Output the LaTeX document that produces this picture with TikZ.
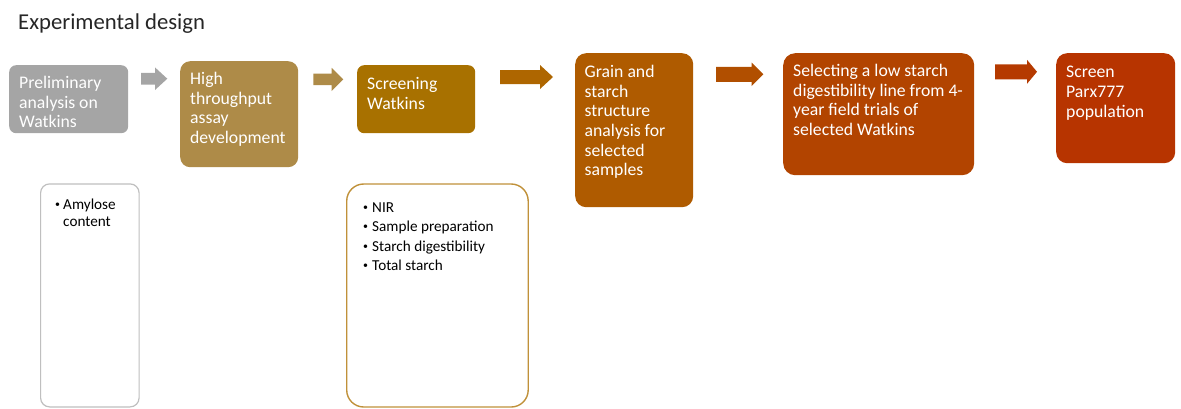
\documentclass[tikz,border=0pt]{standalone}
\usepackage{fontspec}
\setmainfont{Carlito}
\definecolor{stepgray}{HTML}{A5A5A5}
\definecolor{steptan}{HTML}{AE8B48}
\definecolor{stepgold}{HTML}{A87100}
\definecolor{arrowgold}{HTML}{AE6600}
\definecolor{stepamber}{HTML}{AF5B00}
\definecolor{arrowamber}{HTML}{B14F00}
\definecolor{steprust}{HTML}{B24400}
\definecolor{arrowrust}{HTML}{B53A00}
\definecolor{stepred}{HTML}{B73400}
\definecolor{notegray}{HTML}{BFBFBF}
\definecolor{notegold}{HTML}{C0913A}
\newcommand{\notebullet}[1]{\makebox[#1][l]{\hspace*{1pt}\raisebox{0.25ex}{\scalebox{0.65}{\textbullet}}}}
\begin{document}
\begin{tikzpicture}[x=1pt, y=-1pt,
    stepbox/.style={rounded corners=#1, inner sep=0, anchor=north west},
    steptext/.style={text=white, font=\fontsize{17.7}{19.7}\selectfont, align=left, inner sep=0, anchor=north west},
    notetext/.style={text=black, align=left, inner sep=0, anchor=north west}]
\useasboundingbox (0,0) rectangle (1181,408);

\node[anchor=base west, inner sep=0, font=\fontsize{22.7}{27}\selectfont, text=black!85] (title) at (18,29.3) {Experimental design};

% steps
\node[stepbox=7, fill=stepgray, minimum width=119, minimum height=68] (b1) at (9,65) {};
\node[stepbox=10, fill=steptan, minimum width=118, minimum height=106] (b2) at (180,61) {};
\node[stepbox=7, fill=stepgold, minimum width=118, minimum height=68] (b3) at (357,65) {};
\node[stepbox=11, fill=stepamber, minimum width=118, minimum height=154] (b4) at (575,53) {};
\node[stepbox=12, fill=steprust, minimum width=191, minimum height=122] (b5) at (783,53) {};
\node[stepbox=11, fill=stepred, minimum width=119, minimum height=110] (b6) at (1056,53) {};

\node[steptext] (t1) at ([shift={(10,11)}]b1.north west) {Preliminary\\analysis on\\Watkins};
\node[steptext] (t2) at ([shift={(10,11)}]b2.north west) {High\\throughput\\assay\\development};
\node[steptext] (t3) at ([shift={(10,12)}]b3.north west) {Screening\\Watkins};
\node[steptext] (t4) at ([shift={(9.5,12)}]b4.north west) {Grain and\\starch\\structure\\analysis for\\selected\\samples};
\node[steptext] (t5) at ([shift={(10,11)}]b5.north west) {Selecting a low starch\\digestibility line from 4-\\year field trials of\\selected Watkins};
\node[steptext] (t6) at ([shift={(10,13)}]b6.north west) {Screen\\Parx777\\population};

% block arrows
\foreach \xa/\xb/\xc/\yc/\s/\hh/\col in {141/155/167.3/78.7/5.8/11.3/stepgray,
    313.3/331.7/343.3/79.4/5.8/11.6/steptan,
    500/540/553/77/7/12/arrowgold,
    716/751.7/763.3/74.3/7.5/11.7/arrowamber,
    995/1027/1037/71.8/7.5/12/arrowrust}
{
    \fill[\col] (\xa,\yc-\s) -- (\xb,\yc-\s) -- (\xb,\yc-\hh) -- (\xc,\yc)
        -- (\xb,\yc+\hh) -- (\xb,\yc+\s) -- (\xa,\yc+\s) -- cycle;
}

% notes
\node[stepbox=9, draw=notegray, line width=1.2pt, fill=white, minimum width=98.5, minimum height=223] (n1) at (40,183.3) {};
\node[stepbox=17, draw=notegold, line width=1.4pt, fill=white, minimum width=181.5, minimum height=223] (n2) at (346,183.3) {};

\node[notetext, font=\fontsize{15.2}{16.7}\selectfont] (m1) at ([shift={(14,15.3)}]n1.north west)
    {\notebullet{9pt}Amylose\\\hspace*{9pt}content};
\node[notetext, font=\fontsize{15.2}{19.5}\selectfont] (m2) at ([shift={(16,19)}]n2.north west)
    {\notebullet{10pt}NIR\\\notebullet{10pt}Sample preparation\\\notebullet{10pt}Starch digestibility\\\notebullet{10pt}Total starch};
\end{tikzpicture}
\end{document}
